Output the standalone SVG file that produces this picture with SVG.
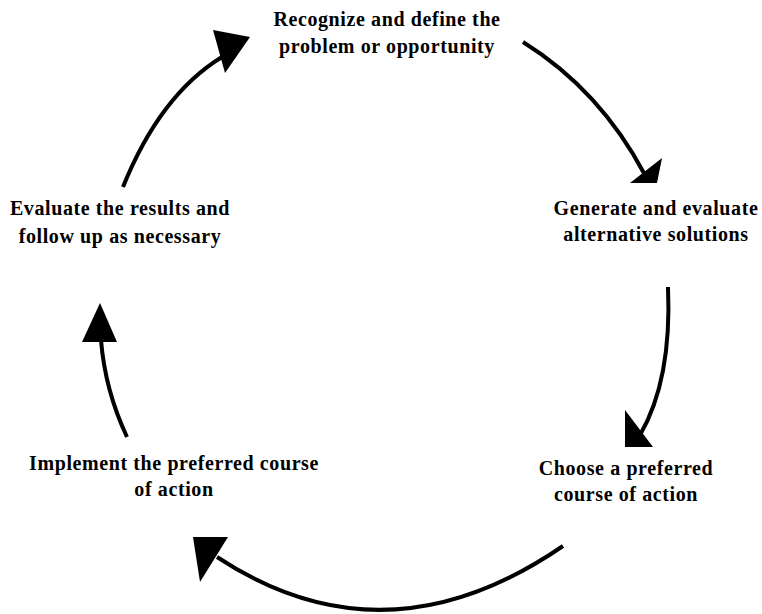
<svg xmlns="http://www.w3.org/2000/svg" width="762" height="614" viewBox="0 0 762 614">
<style>
.lbl{font-family:"Liberation Serif","Times New Roman",serif;font-weight:bold;font-size:20px;fill:#000;text-anchor:middle;letter-spacing:0.6px}
.arc{fill:none;stroke:#000;stroke-width:4;stroke-linecap:butt}
.head{fill:#000}
</style>
<rect width="762" height="614" fill="#fff"/>
<g id="connectors">
<path class="arc" d="M123,187 Q160,95 222,57"/>
<polygon class="head" points="213,30 250,37 225,73"/>
<path class="arc" d="M523,42 Q600,90 645,175"/>
<polygon class="head" points="630,183 662,158 657,183"/>
<path class="arc" d="M668,287 Q672,380 640,435"/>
<polygon class="head" points="625,410 625,447 653,447"/>
<path class="arc" d="M563,546 Q385,668 217,557"/>
<polygon class="head" points="193,537 228,537 200,582"/>
<path class="arc" d="M127,437 Q105,390 101,340"/>
<polygon class="head" points="100,303 82,342 117,342"/>
</g>
<g id="node-recognize">
<text class="lbl" x="387" y="26">Recognize and define the</text>
<text class="lbl" x="387" y="53">problem or opportunity</text>
</g>
<g id="node-generate">
<text class="lbl" x="656" y="215">Generate and evaluate</text>
<text class="lbl" x="656" y="241">alternative solutions</text>
</g>
<g id="node-choose">
<text class="lbl" x="626" y="475">Choose a preferred</text>
<text class="lbl" x="626" y="501">course of action</text>
</g>
<g id="node-implement">
<text class="lbl" x="174" y="470">Implement the preferred course</text>
<text class="lbl" x="174" y="496">of action</text>
</g>
<g id="node-evaluate">
<text class="lbl" x="120" y="215">Evaluate the results and</text>
<text class="lbl" x="120" y="243">follow up as necessary</text>
</g>
</svg>
